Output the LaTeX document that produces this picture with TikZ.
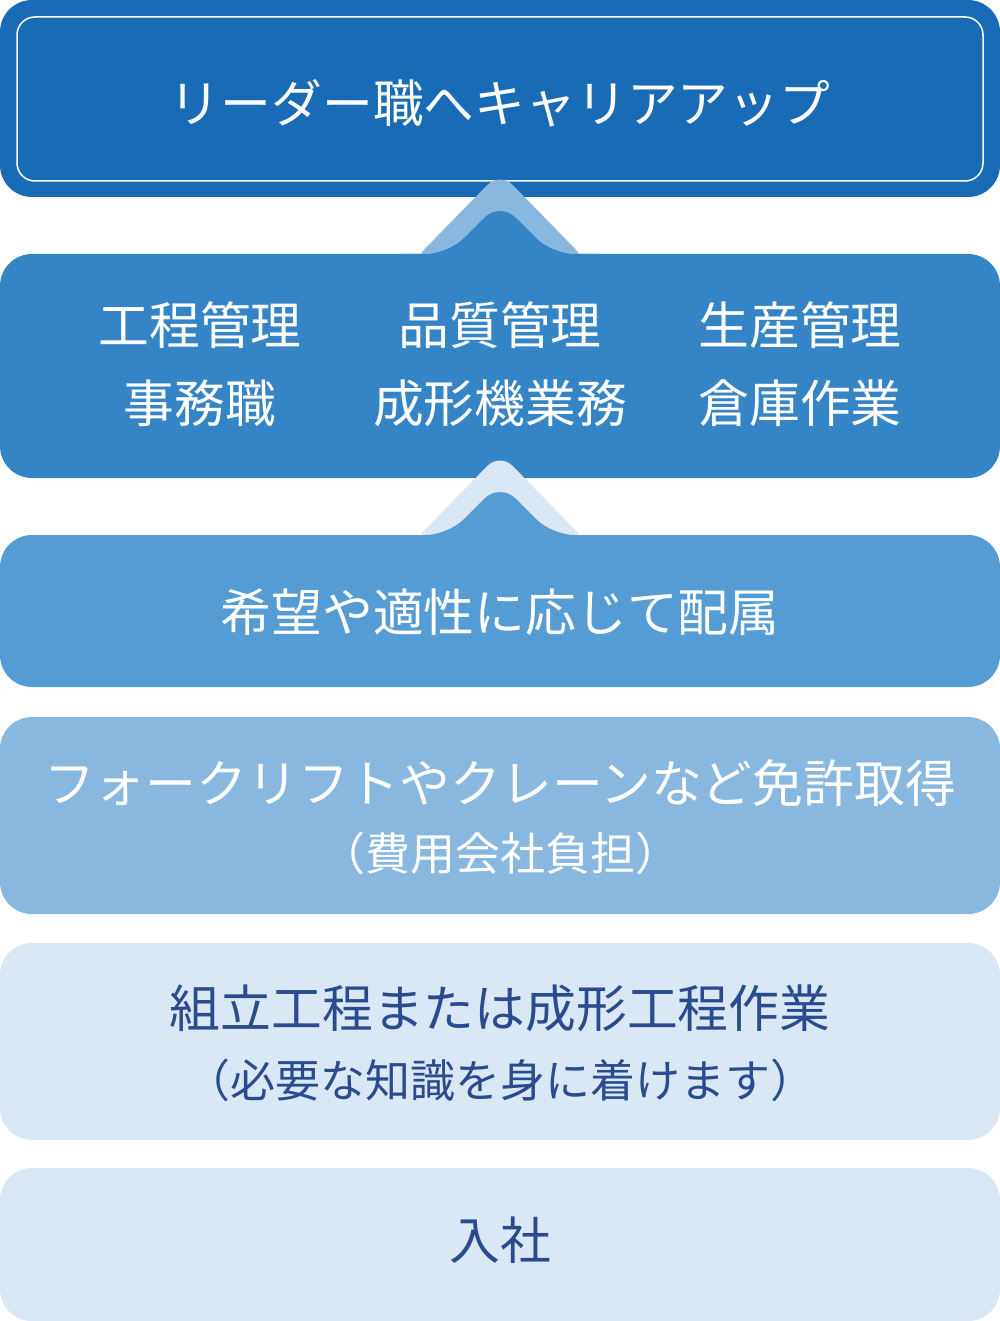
\documentclass[tikz,border=0pt]{standalone}
\usepackage{fontspec}
\setmainfont{Noto Sans CJK JP}
\definecolor{cA}{HTML}{1A6BB5}
\definecolor{cB}{HTML}{3585C6}
\definecolor{cC}{HTML}{559CD4}
\definecolor{cD}{HTML}{88B8E0}
\definecolor{cE}{HTML}{DAE7F4}
\definecolor{cT}{HTML}{2A4C8F}
\tikzset{
  boxshape/.style={rounded corners=32pt},
  big/.style={font=\fontsize{50.8}{60}\selectfont, inner sep=0pt, anchor=center},
  small/.style={font=\fontsize{45}{54}\selectfont, inner sep=0pt, anchor=center},
}
\begin{document}
\begin{tikzpicture}[x=1pt,y=-1pt]
\useasboundingbox (0,0) rectangle (1000,1321);
% boxes
\fill[cA, boxshape] (0,0) rectangle (1000,197);
\draw[white, line width=1.5pt, rounded corners=18pt] (17,17) rectangle (983,181);
\fill[cB, boxshape] (0,254) rectangle (1000,478);
\fill[cC, boxshape] (0,535) rectangle (1000,687);
\fill[cD, boxshape] (0,717) rectangle (1000,914);
\fill[cE, boxshape] (0,943) rectangle (1000,1140);
\fill[cE, boxshape] (0,1168) rectangle (1000,1321);
% chevron 1
\fill[cD, rounded corners=18pt] (412,262) -- (500,172) -- (588,262) -- cycle;
\fill[cB, rounded corners=22pt] (380,300) -- (380,254) -- (448,254) -- (500,202) -- (552,254) -- (620,254) -- (620,300) -- cycle;
% chevron 2
\fill[cE, rounded corners=18pt] (412,543) -- (500,453) -- (588,543) -- cycle;
\fill[cC, rounded corners=22pt] (380,580) -- (380,535) -- (448,535) -- (500,483) -- (552,535) -- (620,535) -- (620,580) -- cycle;
% texts
\node[big, white] (t1) at (500,103) {リーダー職へキャリアアップ};
\node[big, white] (t2a) at (200,325) {工程管理};
\node[big, white] (t2b) at (500,325) {品質管理};
\node[big, white] (t2c) at (800,325) {生産管理};
\node[big, white] (t2d) at (200,403) {事務職};
\node[big, white] (t2e) at (500,403) {成形機業務};
\node[big, white] (t2f) at (800,403) {倉庫作業};
\node[big, white] (t3) at (500,612) {希望や適性に応じて配属};
\node[big, white] (t4a) at (500,783) {フォークリフトやクレーンなど免許取得};
\node[small, white] (t4b) at (500,853) {（費用会社負担）};
\node[big, cT] (t5a) at (500,1008) {組立工程または成形工程作業};
\node[small, cT] (t5b) at (500,1080) {（必要な知識を身に着けます）};
\node[big, cT] (t6) at (500,1240) {入社};
\end{tikzpicture}
\end{document}
